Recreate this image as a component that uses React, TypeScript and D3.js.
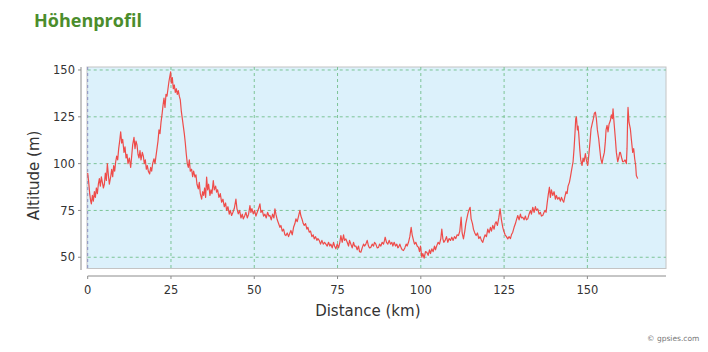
import React from 'react';
import * as d3 from 'd3';

// elevation samples: [distance km, altitude m]
const profile: [number, number][] = [
  [0, 95], [0.3, 90], [0.6, 84], [0.9, 80], [1.1, 78.5], [1.4, 83], [1.7, 80], [2.0, 85], [2.3, 82], [2.6, 87],
  [2.9, 84], [3.2, 89], [3.5, 92], [3.8, 88], [4.1, 93], [4.4, 90], [4.7, 87], [5.0, 89], [5.3, 95], [5.6, 91],
  [5.9, 100], [6.2, 94], [6.5, 89], [6.9, 93], [7.2, 97], [7.5, 93], [7.8, 99], [8.1, 96], [8.4, 101], [8.7, 104],
  [9.0, 102], [9.3, 108], [9.6, 112], [9.9, 117], [10.2, 111], [10.5, 113], [10.9, 106], [11.2, 109], [11.5, 103], [11.8, 105],
  [12.1, 100], [12.5, 103], [12.9, 98], [13.2, 104], [13.5, 110], [13.9, 114], [14.2, 108], [14.5, 112], [14.8, 110], [15.1, 105],
  [15.4, 103], [15.7, 107], [16.0, 102], [16.4, 106], [16.7, 104], [17.0, 100], [17.3, 102], [17.6, 97], [17.9, 99], [18.2, 96],
  [18.6, 94.5], [18.9, 98], [19.2, 96], [19.5, 100], [19.9, 102.6], [20.2, 100], [20.5, 104], [20.8, 108], [21.1, 112], [21.4, 118],
  [21.7, 116], [22.0, 122], [22.3, 126], [22.6, 131], [22.9, 135], [23.2, 130], [23.5, 137], [23.8, 136], [24.1, 140], [24.4, 144],
  [24.7, 147], [24.9, 149], [25.1, 143], [25.4, 146], [25.7, 140], [26.0, 142], [26.3, 138], [26.6, 140], [26.9, 137], [27.2, 139],
  [27.5, 136], [27.8, 134], [28.1, 128], [28.4, 124], [28.7, 120], [29.0, 116], [29.3, 111], [29.6, 105], [29.9, 100], [30.2, 98],
  [30.5, 102], [30.8, 96], [31.2, 97], [31.5, 93], [31.8, 96], [32.2, 92.8], [32.5, 94], [32.8, 89], [33.2, 86.5], [33.5, 90],
  [33.8, 84], [34.2, 81], [34.5, 85], [34.8, 83], [35.1, 87], [35.4, 82], [35.7, 92.8], [36.0, 86], [36.3, 89], [36.7, 83],
  [37.0, 86], [37.3, 84], [37.7, 91], [38.0, 86], [38.4, 88], [38.7, 84.8], [39.0, 86], [39.4, 82], [39.8, 84], [40.2, 79.4],
  [40.6, 81], [41.0, 77], [41.4, 79], [41.7, 75], [42.1, 77], [42.5, 73], [42.8, 75], [43.2, 72.3], [43.6, 74], [44.0, 76],
  [44.5, 81], [44.8, 76], [45.2, 73.2], [45.6, 75], [46.0, 71], [46.4, 73], [46.7, 70.5], [47.1, 72], [47.5, 74], [47.9, 71],
  [48.3, 73], [48.7, 77.6], [49.0, 74], [49.3, 76], [49.7, 73.2], [50.1, 75], [50.5, 72], [50.9, 74], [51.3, 76], [51.7, 78.5],
  [52.0, 74], [52.4, 75], [52.8, 72], [53.2, 73], [53.6, 71], [54.0, 74], [54.4, 72], [54.7, 72.3], [55.1, 70], [55.5, 73],
  [55.9, 71], [56.2, 75.8], [56.5, 73], [56.9, 70], [57.3, 68], [57.7, 66], [58.0, 67], [58.4, 64], [58.8, 65], [59.2, 62],
  [59.5, 61.6], [59.9, 63], [60.3, 61], [60.7, 63], [61.0, 64.3], [61.4, 62], [61.8, 66], [62.2, 68], [62.5, 70.5], [62.9, 69],
  [63.3, 72], [63.7, 75], [64.0, 72], [64.4, 70], [64.7, 68], [65.0, 67], [65.4, 68], [65.8, 65], [66.1, 66], [66.5, 63.4],
  [66.9, 64], [67.3, 61], [67.7, 62], [68.0, 59.8], [68.4, 61], [68.8, 59], [69.1, 60], [69.5, 59], [69.9, 57], [70.3, 59],
  [70.7, 57], [71.1, 58], [71.5, 57], [71.9, 56], [72.3, 58], [72.7, 56], [73.0, 57], [73.4, 55], [73.8, 58], [74.1, 56],
  [74.5, 54.5], [74.9, 57], [75.3, 55], [75.7, 58], [76.0, 61.6], [76.4, 58], [76.8, 62], [77.1, 59], [77.5, 59.8], [77.9, 58],
  [78.3, 56], [78.6, 59], [79.0, 57], [79.4, 55], [79.8, 58], [80.1, 56], [80.5, 56], [80.9, 54], [81.3, 56], [81.6, 53],
  [82.0, 52.7], [82.4, 55], [82.8, 57], [83.1, 56], [83.5, 57], [83.9, 59], [84.3, 56], [84.6, 55], [85.0, 55.3], [85.4, 57],
  [85.8, 56], [86.1, 58], [86.5, 57], [86.9, 55], [87.3, 55.3], [87.6, 57], [88.0, 56], [88.4, 58], [88.8, 57], [89.1, 59],
  [89.3, 60.7], [89.7, 58], [90.1, 57], [90.5, 59], [90.9, 57], [91.3, 58], [91.6, 56], [92.0, 58], [92.4, 56], [92.8, 57],
  [93.1, 55], [93.3, 55.3], [93.7, 57], [94.1, 55], [94.4, 54], [94.8, 53.6], [95.2, 55], [95.6, 57], [95.9, 56], [96.3, 58],
  [96.7, 61], [97.1, 66], [97.4, 62], [97.8, 59], [98.1, 57], [98.5, 58], [98.9, 56], [99.3, 55.3], [99.6, 53], [99.9, 56],
  [100.3, 50], [100.6, 52], [101.0, 49.5], [101.4, 53], [101.8, 52.7], [102.2, 51], [102.6, 54], [102.9, 52], [103.3, 54.5], [103.7, 53],
  [104.1, 56], [104.4, 54], [104.8, 56.2], [105.2, 58], [105.6, 57], [106.0, 60], [106.3, 65], [106.6, 60], [106.9, 58], [107.3, 59],
  [107.7, 61], [108.1, 58], [108.5, 60], [108.9, 59], [109.3, 60.7], [109.7, 59], [110.1, 61], [110.5, 60], [110.9, 62], [111.3, 61.6],
  [111.7, 64], [112.1, 71.4], [112.4, 63], [112.8, 59.8], [113.2, 64], [113.5, 68], [113.8, 70.5], [114.1, 73], [114.4, 75], [114.8, 76.7],
  [115.1, 70.5], [115.5, 68], [115.8, 65], [116.2, 63], [116.6, 61.6], [117.0, 63], [117.4, 60], [117.8, 61], [118.2, 59], [118.6, 58],
  [118.9, 60], [119.3, 62], [119.7, 61], [120.1, 65], [120.5, 63], [120.9, 66], [121.2, 64], [121.6, 67], [122.0, 65], [122.3, 68],
  [122.6, 69], [123.0, 67], [123.4, 71], [123.8, 75.8], [124.2, 70], [124.6, 66], [124.9, 64], [125.3, 62], [125.7, 61], [126.1, 59.8],
  [126.5, 61], [126.9, 60], [127.2, 62], [127.6, 63.4], [128.0, 66], [128.4, 68], [128.7, 70], [129.1, 72.3], [129.5, 70], [129.9, 73],
  [130.2, 71], [130.6, 71.4], [131.0, 70], [131.4, 72], [131.7, 70], [132.1, 70.5], [132.5, 73], [132.9, 75], [133.2, 73], [133.6, 76.7],
  [134.0, 74], [134.4, 77], [134.7, 75], [135.1, 75.8], [135.5, 73], [135.9, 74], [136.2, 72], [136.6, 72.3], [137.0, 74], [137.3, 75],
  [137.6, 74], [138.0, 80], [138.3, 84], [138.6, 87.4], [138.9, 82], [139.2, 86], [139.6, 83], [140.0, 85], [140.4, 81], [140.7, 83],
  [141.1, 81], [141.5, 82], [141.9, 80], [142.2, 82], [142.6, 80.3], [142.9, 79.4], [143.2, 82], [143.6, 85], [143.9, 84], [144.2, 88],
  [144.6, 90], [144.9, 92.8], [145.2, 96], [145.5, 99], [145.7, 101], [146.0, 108], [146.3, 117], [146.5, 124], [146.7, 125], [147.0, 118],
  [147.2, 120], [147.4, 116], [147.7, 108], [148.0, 102], [148.4, 99], [148.7, 103], [149.0, 101], [149.4, 105.3], [149.7, 102], [150.1, 99],
  [150.4, 104], [150.8, 112], [151.1, 118.6], [151.4, 121], [151.8, 124], [152.1, 127], [152.4, 127.5], [152.7, 124], [153.0, 118], [153.4, 113.3],
  [153.7, 108], [154.0, 103], [154.4, 100], [154.7, 103], [155.1, 106], [155.4, 112], [155.6, 118], [155.9, 120.4], [156.2, 117], [156.5, 121],
  [156.9, 123], [157.2, 126], [157.5, 124], [157.7, 129.3], [158.0, 122], [158.4, 113.3], [158.7, 106], [159.1, 101], [159.4, 103], [159.7, 106],
  [159.9, 106], [160.3, 103], [160.6, 101], [160.9, 101], [161.3, 102], [161.7, 100], [161.9, 108], [162.1, 125], [162.2, 130], [162.5, 122],
  [162.9, 118.6], [163.2, 113], [163.6, 106], [163.9, 108], [164.2, 102.6], [164.5, 99], [164.7, 93.7], [165.1, 92],
];

const xTicks = [0, 25, 50, 75, 100, 125, 150];
const yTicks = [50, 75, 100, 125, 150];

const title = 'Höhenprofil';
const xLabel = 'Distance (km)';
const yLabel = 'Altitude (m)';
const credit = '© gpsies.com';

const W = 708;
const H = 352;
const font = 'DejaVu Sans, sans-serif';

export default function App() {
  // plot box in page pixels
  const left = 87.7, right = 666, top = 67, bottom = 268.5;

  const x = d3.scaleLinear().domain([0, 173.6]).range([left, right]);
  const y = d3.scaleLinear().domain([44, 151.6]).range([bottom, top]);

  const line = d3.line<[number, number]>()
    .x(d => x(d[0]))
    .y(d => y(d[1]));

  const axisX = 276; // x axis sits a bit below the plot box
  const axisY = 81;  // y axis sits a bit left of it

  return (
    <svg width={W} height={H} style={{ position: 'absolute', left: 0, top: 0, background: '#fff' }}>
      <text x={34} y={27} fontFamily="Open Sans, sans-serif" fontWeight={700} fontSize={18} fill="#4b8d2c">
        {title}
      </text>

      <rect x={left - 0.7} y={top} width={right - left + 0.7} height={bottom - top}
        fill="#dcf1fb" stroke="#c4c4c4" strokeWidth={1} />

      {yTicks.map(t => (
        <line key={'gy' + t} x1={left} x2={right} y1={y(t)} y2={y(t)}
          stroke="#7cc496" strokeWidth={1} strokeDasharray="3,3" />
      ))}
      {xTicks.map(t => (
        <line key={'gx' + t} x1={x(t)} x2={x(t)} y1={top} y2={bottom}
          stroke={t === 0 ? '#8a8fc0' : '#7cc496'} strokeWidth={1} strokeDasharray="3,3" />
      ))}

      <path d={line(profile) ?? ''} fill="none" stroke="#ee4c4a" strokeWidth={1.2} strokeLinejoin="round" />

      {/* y axis */}
      <line x1={axisY} x2={axisY} y1={top} y2={bottom + 1.5} stroke="#8c8c8c" />
      {yTicks.map(t => (
        <g key={'yt' + t}>
          <line x1={axisY - 3} x2={axisY} y1={y(t)} y2={y(t)} stroke="#8c8c8c" />
          <text x={axisY - 6} y={y(t)} dy="0.36em" textAnchor="end" fontFamily={font} fontSize={11.5} fill="#333">
            {t}
          </text>
        </g>
      ))}

      {/* x axis */}
      <line x1={left} x2={right} y1={axisX} y2={axisX} stroke="#8c8c8c" />
      {xTicks.map(t => (
        <g key={'xt' + t}>
          <line x1={x(t)} x2={x(t)} y1={axisX} y2={axisX + 3} stroke="#8c8c8c" />
          <text x={x(t)} y={294} textAnchor="middle" fontFamily={font} fontSize={11.5} fill="#333">
            {t}
          </text>
        </g>
      ))}

      <text x={(left + right) / 2 - 9} y={316} textAnchor="middle" fontFamily={font} fontSize={15} fill="#333">
        {xLabel}
      </text>
      <text transform="translate(38.5,175.5) rotate(-90)" textAnchor="middle" fontFamily={font} fontSize={15} fill="#333">
        {yLabel}
      </text>

      <text x={647} y={341} fontFamily={font} fontSize={7.5} fill="#777">
        {credit}
      </text>
    </svg>
  );
}
